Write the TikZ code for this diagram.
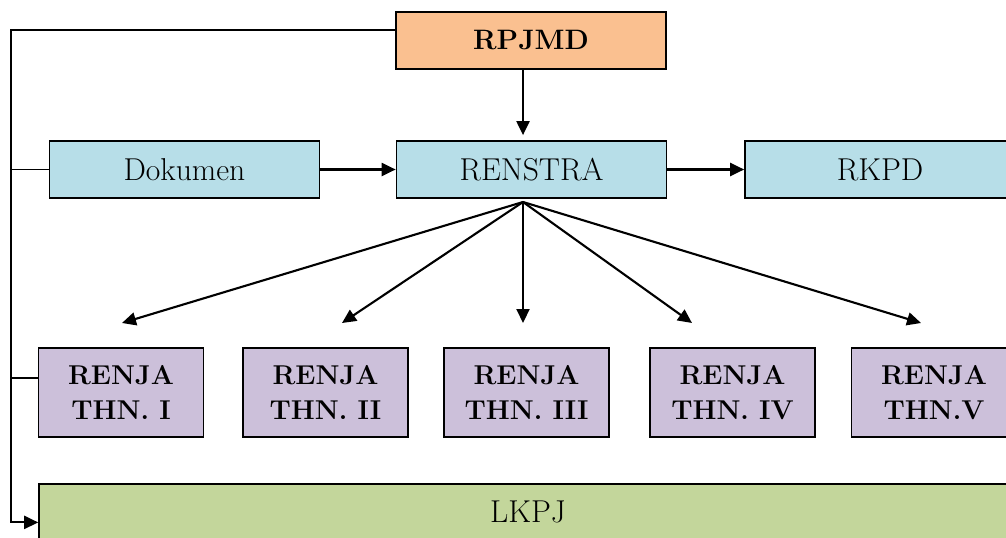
\documentclass[tikz,border=0pt]{standalone}
\usepackage{tikz}
\usetikzlibrary{calc,arrows.meta}

\definecolor{orangebox}{HTML}{FAC090}
\definecolor{bluebox}{HTML}{B7DEE8}
\definecolor{purplebox}{HTML}{CCC0DA}
\definecolor{greenbox}{HTML}{C3D69B}

\begin{document}
\begin{tikzpicture}[x=0.02cm,y=-0.02cm,
    box/.style={draw,line width=1pt,inner sep=0pt,align=center,
      minimum width=5.4cm,minimum height=1.14cm,font=\fontsize{18}{21}\selectfont},
    renja/.style={box,fill=purplebox,minimum width=3.3cm,minimum height=1.78cm,
      font=\fontsize{15.5}{19.5}\selectfont\bfseries},
    arr/.style={line width=1.2pt,-{Triangle[length=0.28cm,width=0.26cm]}}]
    \clip (0,0) rectangle (1006,537);

    % top and middle row
    \node[box,fill=orangebox,font=\fontsize{16}{19}\selectfont\bfseries] (rpjmd) at (531,40.5) {RPJMD};
    \node[box,fill=bluebox] (dok) at (184.5,169.5) {Dokumen};
    \node[box,fill=bluebox] (renstra) at (531.5,169.5) {RENSTRA};
    \node[box,fill=bluebox] (rkpd) at (880,169.5) {RKPD};

    % renja per tahun
    \node[renja] (r1) at (121,392.5) {RENJA\\THN. I};
    \node[renja] (r2) at (325.5,392.5) {RENJA\\THN. II};
    \node[renja] (r3) at (526.5,392.5) {RENJA\\THN. III};
    \node[renja] (r4) at (732.5,392.5) {RENJA\\THN. IV};
    \node[renja] (r5) at (934,392.5) {RENJA\\THN.V};

    \node[box,fill=greenbox,minimum width=19.56cm,minimum height=1.12cm] (lkpj) at (528,512) {LKPJ};

    \draw[arr] ($(rpjmd.south)+(-8,0)$) -- ($(renstra.north)+(-8.5,-5)$);
    \draw[arr] (dok.east) -- (renstra.west);
    \draw[arr] (renstra.east) -- (rkpd.west);

    % fan to renja
    \coordinate (o) at (523,202);
    \coordinate (t1) at (122,323);
    \coordinate (t2) at (342,323);
    \coordinate (t3) at (523,323);
    \coordinate (t4) at (692,323);
    \coordinate (t5) at (921,323);
    \foreach \t in {t1,t2,t3,t4,t5}{
      \draw[arr] (o) -- (\t);
    }

    % left line
    \coordinate (tl) at ($(rpjmd.north west)!0.32!(rpjmd.south west)$);
    \coordinate (bl) at ($(lkpj.north west)!0.68!(lkpj.south west)$);
    \draw[line width=1pt] (tl) -- (11,0 |- tl) |- ($(bl)+(-1,0)$);
    \draw[arr] (11,0 |- bl) -- (bl);
    \draw[line width=1pt] (dok.west) -- (11,0 |- dok.west);
    \draw[line width=1pt] ($(r1.north west)!0.34!(r1.south west)$) -- +(-28,0);
\end{tikzpicture}
\end{document}
